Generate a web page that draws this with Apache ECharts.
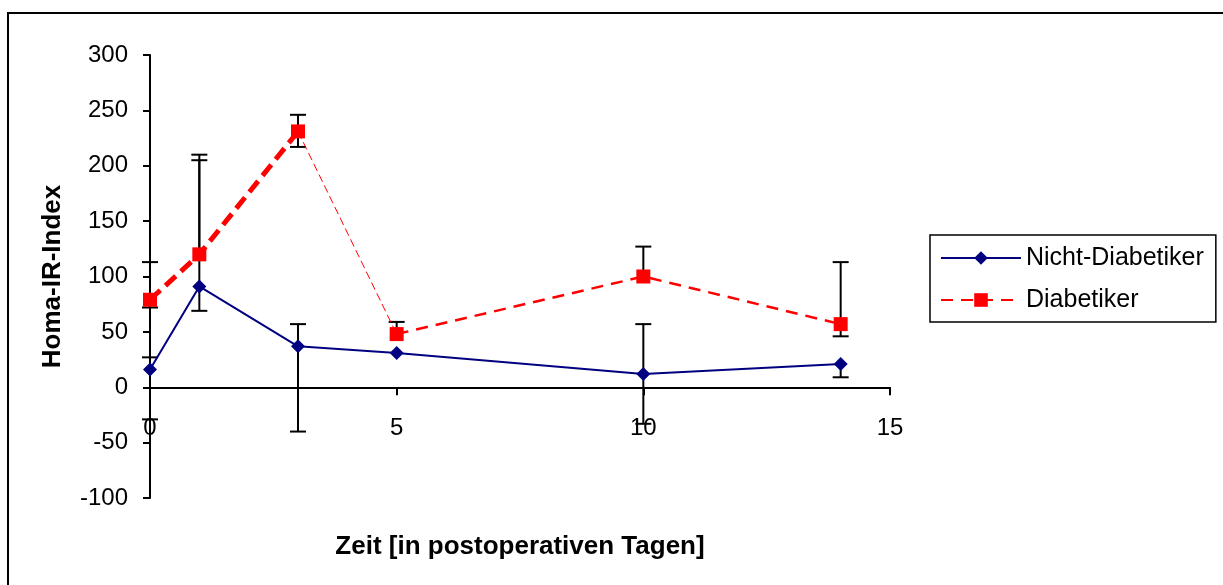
<!DOCTYPE html>
<html>
<head>
<meta charset="utf-8">
<script src="https://cdn.jsdelivr.net/npm/echarts@6/dist/echarts.min.js"></script>
<style>
html,body{margin:0;padding:0;background:#fff;}
#chart{width:1223px;height:585px;}
</style>
</head>
<body>
<div id="chart"></div>
<script>
// ---- data ----
const days = [0, 1, 3, 5, 10, 14];
const nichtValues = [16, 91, 37, 31, 12, 21];
const nichtLow    = [-29, 69, -40, 31, -33, 9];
const nichtHigh   = [27, 205, 57, 31, 57, 21];
const diabValues  = [79, 120, 231, 48, 100, 57];
const diabLow     = [72, 120, 217, 48, 100, 46];
const diabHigh    = [113, 210, 246, 59, 127, 113];
const seriesNames = ['Nicht-Diabetiker', 'Diabetiker'];
const xTitle = 'Zeit [in postoperativen Tagen]';
const yTitle = 'Homa-IR-Index';

const FONT = '"Liberation Sans", Arial, sans-serif';
const chart = echarts.init(document.getElementById('chart'), null, {renderer: 'canvas'});

const pts = (vals, idx) => idx.map(i => [days[i], vals[i]]);
const nichtData = pts(nichtValues, [0,1,2,3,4,5]);
// Diabetiker main series: markers at all points, line only drawn over 5-10-14
const diabMain = [];
days.forEach((d, i) => {
  diabMain.push([d, diabValues[i]]);
  if (i < 3) diabMain.push(['-', '-']);
});
const diabThick = pts(diabValues, [0,1,2]);
const diabThin = pts(diabValues, [2,3]);

const errData = (vals, lo, hi) => days.map((d, i) => [d, vals[i], lo[i], hi[i]]);

function renderErr(params, api) {
  const x = api.value(0), v = api.value(1), lo = api.value(2), hi = api.value(3);
  if (lo === v && hi === v) return null;
  const pl = api.coord([x, lo]), ph = api.coord([x, hi]);
  const st = {stroke: '#000', lineWidth: 2};
  const hw = 8;
  const ch = [{type: 'line', shape: {x1: pl[0], y1: pl[1], x2: ph[0], y2: ph[1]}, style: st}];
  if (lo < v) ch.push({type: 'line', shape: {x1: pl[0]-hw, y1: pl[1], x2: pl[0]+hw, y2: pl[1]}, style: st});
  if (hi > v) ch.push({type: 'line', shape: {x1: ph[0]-hw, y1: ph[1], x2: ph[0]+hw, y2: ph[1]}, style: st});
  return {type: 'group', children: ch};
}

const option = {
  backgroundColor: '#fff',
  animation: false,
  textStyle: {fontFamily: FONT},
  graphic: [{
    type: 'rect', z: 100,
    shape: {x: 8, y: 13, width: 1400, height: 800},
    style: {fill: 'none', stroke: '#000', lineWidth: 2}
  }],
  grid: {left: 150, right: 333, top: 55, bottom: 87, containLabel: false, outerBoundsMode: 'none'},
  legend: {
    orient: 'vertical', left: 930, top: 235,
    data: seriesNames,
    padding: [8, 12, 7, 10],
    borderColor: '#000', borderWidth: 1.5,
    itemWidth: 80, itemHeight: 17, itemGap: 12,
    textStyle: {fontSize: 25, lineHeight: 30, color: '#000', fontFamily: FONT}
  },
  xAxis: {
    type: 'value', min: 0, max: 15, interval: 5,
    name: xTitle, nameLocation: 'middle', nameGap: 36,
    nameTextStyle: {fontSize: 26, fontWeight: 'bold', color: '#000', fontFamily: FONT},
    axisLine: {onZero: true, lineStyle: {color: '#000', width: 2}},
    axisTick: {show: true, length: 8, lineStyle: {color: '#000', width: 2}},
    axisLabel: {fontSize: 24, color: '#000', margin: -82, fontFamily: FONT},
    splitLine: {show: false}
  },
  yAxis: {
    type: 'value', min: -100, max: 300, interval: 50,
    name: yTitle, nameLocation: 'middle', nameGap: 84, nameRotate: 90,
    nameTextStyle: {fontSize: 26, fontWeight: 'bold', color: '#000', fontFamily: FONT},
    axisLine: {show: true, lineStyle: {color: '#000', width: 2}},
    axisTick: {show: true, length: 7, lineStyle: {color: '#000', width: 2}},
    axisLabel: {fontSize: 24, color: '#000', margin: 22, fontFamily: FONT},
    splitLine: {show: false}
  },
  series: [
    {type: 'custom', name: 'errN', renderItem: renderErr, data: errData(nichtValues, nichtLow, nichtHigh),
     encode: {x: 0, y: 1}, z: 2, silent: true},
    {type: 'custom', name: 'errD', renderItem: renderErr, data: errData(diabValues, diabLow, diabHigh),
     encode: {x: 0, y: 1}, z: 2, silent: true},
    {type: 'line', name: 'DiabThick', data: diabThick, showSymbol: false, silent: true, z: 3,
     lineStyle: {color: '#ff0000', width: 5, type: [14, 7]}},
    {type: 'line', name: 'DiabThin', data: diabThin, showSymbol: false, silent: true, z: 3,
     lineStyle: {color: '#ff0000', width: 1, type: [8, 4]}},
    {type: 'line', name: seriesNames[0], data: nichtData, z: 4,
     symbol: 'diamond', symbolSize: 14,
     itemStyle: {color: '#000080'},
     lineStyle: {color: '#000080', width: 2}},
    {type: 'line', name: seriesNames[1], data: diabMain, z: 4, connectNulls: false,
     symbol: 'rect', symbolSize: 14,
     itemStyle: {color: '#ff0000'},
     lineStyle: {color: '#ff0000', width: 2.5, type: [12, 8]}}
  ]
};
chart.setOption(option);
</script>
</body>
</html>
